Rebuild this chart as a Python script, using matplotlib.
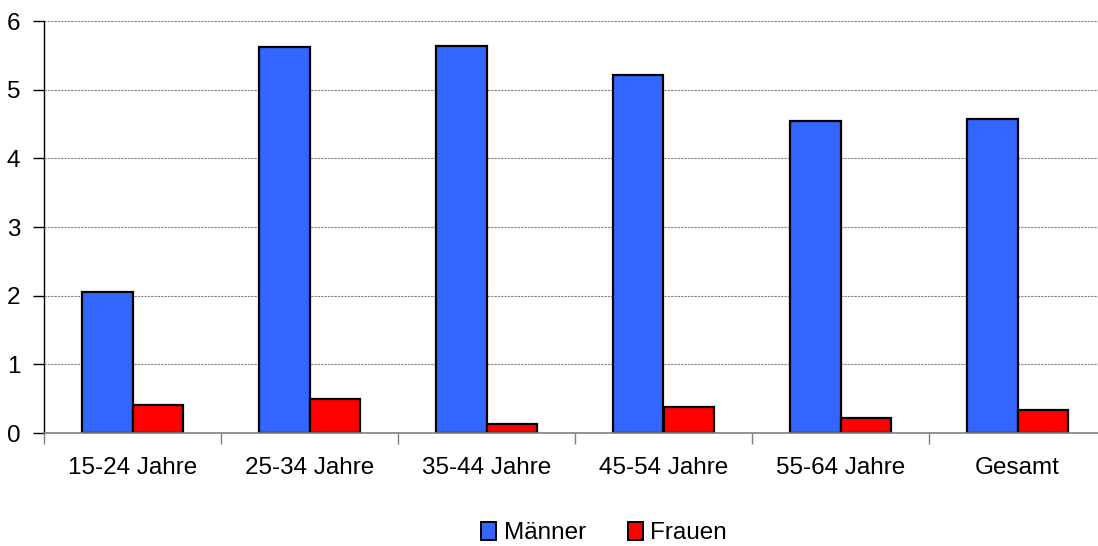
import matplotlib
matplotlib.use("Agg")
import matplotlib.pyplot as plt
import numpy as np
from matplotlib.patches import Patch

categories = ["15-24 Jahre", "25-34 Jahre", "35-44 Jahre", "45-54 Jahre", "55-64 Jahre", "Gesamt"]
maenner = [2.05, 5.62, 5.64, 5.22, 4.55, 4.58]
frauen = [0.41, 0.49, 0.13, 0.38, 0.22, 0.33]
yticks = [0, 1, 2, 3, 4, 5, 6]

plt.rcParams["font.family"] = ["Liberation Sans", "DejaVu Sans"]

W, H = 1098, 546
fig = plt.figure(figsize=(W / 100, H / 100), dpi=100)
ax = fig.add_axes([44 / W, 1 - 433 / H, 1062 / W, 412 / H])

x = np.arange(len(categories))
bw = 0.288
blue = "#3366FF"
red = "#FF0000"
ax.bar(x - bw / 2, maenner, bw, color=blue, edgecolor="black", linewidth=1.6, zorder=3)
ax.bar(x + bw / 2, frauen, bw, color=red, edgecolor="black", linewidth=1.6, zorder=3)

ax.set_xlim(-0.5, len(categories) - 0.5)
ax.set_ylim(0, 6)
ax.set_yticks(yticks)
ax.set_yticklabels([str(v) for v in yticks], fontsize=17.5)
ax.yaxis.grid(True, linestyle=(0, (2, 1)), color="#808080", linewidth=0.8, zorder=0)
ax.set_axisbelow(True)

ax.set_xticks(x)
ax.set_xticklabels(categories, fontsize=17.5)
ax.tick_params(axis="x", length=0, pad=17)
ax.set_xticks(np.arange(len(categories) + 1) - 0.5, minor=True)
ax.tick_params(axis="x", which="minor", length=8, color="#808080", width=1)
ax.tick_params(axis="y", length=8, width=1, color="black", pad=9)

for s in ("top", "right"):
    ax.spines[s].set_visible(False)
ax.spines["left"].set_color("black")
ax.spines["left"].set_linewidth(1)
ax.spines["bottom"].set_color("#808080")
ax.spines["bottom"].set_linewidth(1.2)
ax.spines["bottom"].set_zorder(4)

handles = [Patch(facecolor=blue, edgecolor="black", linewidth=1.4, label="Männer"),
           Patch(facecolor=red, edgecolor="black", linewidth=1.4, label="Frauen")]
fig.legend(handles=handles, loc="center", bbox_to_anchor=(604 / W, 1 - 533 / H), ncol=2,
           frameon=False, fontsize=17.5, handlelength=0.62, handleheight=0.75,
           handletextpad=0.3, columnspacing=1.73, borderpad=0.2)

fig.savefig("out.png", dpi=100)
